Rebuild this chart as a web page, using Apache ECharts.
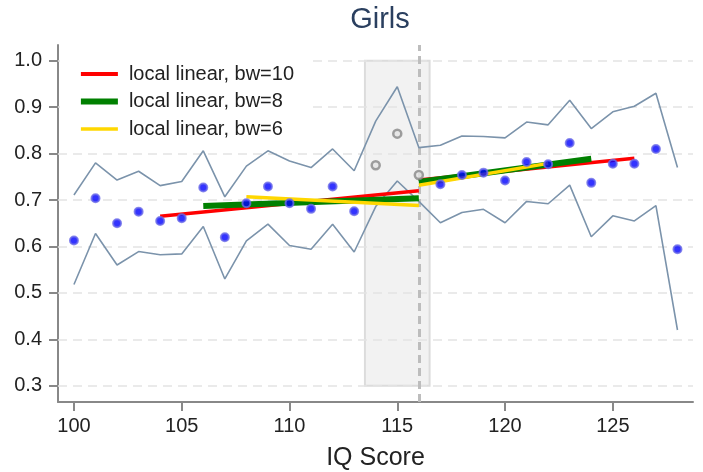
<!DOCTYPE html>
<html>
<head>
<meta charset="utf-8">
<script src="https://cdn.jsdelivr.net/npm/echarts@6/dist/echarts.min.js"></script>
<style>
  html, body { margin: 0; padding: 0; background: #ffffff; }
  #chart { width: 703px; height: 472px; }
</style>
</head>
<body>
<div id="chart"></div>
<script>
// IQ scores on the horizontal axis
const iqScores = [100, 101, 102, 103, 104, 105, 106, 107, 108, 109, 110, 111, 112, 113,
                  114, 115, 116, 117, 118, 119, 120, 121, 122, 123, 124, 125, 126, 127, 128];

// Binned means (scores 114-116 fall inside the excluded window)
const binMeans = [0.613, 0.704, 0.650, 0.675, 0.655, 0.661, 0.727, 0.620, 0.693, 0.729,
                  0.693, 0.681, 0.729, 0.676, 0.775, 0.843, 0.754, 0.734, 0.754, 0.759,
                  0.742, 0.782, 0.777, 0.823, 0.737, 0.778, 0.778, 0.810, 0.594];

// Upper and lower confidence bounds per bin
const ciUpper = [0.711, 0.780, 0.743, 0.762, 0.731, 0.740, 0.806, 0.707, 0.773, 0.806,
                 0.784, 0.770, 0.810, 0.763, 0.870, 0.944, 0.813, 0.818, 0.838, 0.837,
                 0.834, 0.868, 0.862, 0.915, 0.854, 0.890, 0.902, 0.930, 0.770];
const ciLower = [0.518, 0.628, 0.560, 0.589, 0.582, 0.584, 0.643, 0.530, 0.612, 0.648,
                 0.602, 0.594, 0.648, 0.588, 0.686, 0.741, 0.697, 0.651, 0.673, 0.680,
                 0.651, 0.697, 0.692, 0.732, 0.621, 0.666, 0.655, 0.688, 0.420];

// Excluded window around the cutoff
const excludedFrom = 113.5;
const excludedTo = 116.5;
const cutoff = 116;

// Local linear fits: [left start, cutoff] and [cutoff, right end]
const fitBw10 = { left: [[104, 0.665], [116, 0.720]], right: [[116, 0.743], [126, 0.790]] };
const fitBw8  = { left: [[106, 0.687], [116, 0.704]], right: [[116, 0.739], [124, 0.789]] };
const fitBw6  = { left: [[108, 0.707], [116, 0.688]], right: [[116, 0.732], [122, 0.779]] };

// Axis ticks
const xTicks = [100, 105, 110, 115, 120, 125];
const yTicks = [0.3, 0.4, 0.5, 0.6, 0.7, 0.8, 0.9, 1.0];

const FONT = '"Liberation Sans", Arial, Helvetica, sans-serif';

const inWindow = x => x >= excludedFrom && x <= excludedTo;
const meansIn = [], meansOut = [];
iqScores.forEach((x, i) => (inWindow(x) ? meansIn : meansOut).push([x, binMeans[i]]));

const fitData = f => [...f.left, [cutoff, '-'], ...f.right];

const RED = '#ff0000', GREEN = '#008000', GOLD = '#ffd700';

const chart = echarts.init(document.getElementById('chart'), null, { renderer: 'canvas' });

chart.setOption({
  animation: false,
  backgroundColor: '#ffffff',
  title: {
    text: 'Girls',
    left: 375,
    textAlign: 'center',
    top: 0,
    textStyle: { fontFamily: FONT, fontSize: 29, fontWeight: 'normal', color: '#2a3f5f' }
  },
  grid: { left: 58, right: 10, top: 45, bottom: 70, containLabel: false, outerBoundsMode: 'none' },
  legend: {
    orient: 'vertical',
    left: 60,
    top: 58,
    padding: [6, 14, 8, 18],
    backgroundColor: '#ffffff',
    itemWidth: 37,
    itemHeight: 14,
    itemGap: 7.5,
    z: 10,
    data: [
      { name: 'local linear, bw=10', itemStyle: { opacity: 0 }, lineStyle: { width: 3.8, color: RED } },
      { name: 'local linear, bw=8', itemStyle: { opacity: 0 }, lineStyle: { width: 5.8, color: GREEN } },
      { name: 'local linear, bw=6', itemStyle: { opacity: 0 }, lineStyle: { width: 3.4, color: GOLD } }
    ],
    textStyle: { fontFamily: FONT, fontSize: 20, color: '#222', padding: [0, 0, 0, 6], lineHeight: 20 }
  },
  xAxis: {
    type: 'value',
    min: 99.26,
    max: 128.72,
    name: 'IQ Score',
    nameLocation: 'middle',
    nameGap: 44,
    nameTextStyle: { fontFamily: FONT, fontSize: 25, color: '#222' },
    axisLine: { show: true, onZero: false, lineStyle: { color: '#888', width: 2 } },
    axisTick: { show: true, length: 9, customValues: xTicks, lineStyle: { color: '#888', width: 2 } },
    axisLabel: { customValues: xTicks, fontFamily: FONT, fontSize: 20, color: '#222', margin: 14 },
    splitLine: { show: false }
  },
  yAxis: {
    type: 'value',
    min: 0.2649,
    max: 1.034,
    axisLine: { show: true, onZero: false, lineStyle: { color: '#888', width: 2 } },
    axisTick: { show: true, length: 9, customValues: yTicks, lineStyle: { color: '#888', width: 2 } },
    axisLabel: { customValues: yTicks, fontFamily: FONT, fontSize: 20, color: '#222', margin: 16,
                 formatter: v => v.toFixed(1) },
    splitLine: { show: false }
  },
  series: [
    {
      // excluded window around the cutoff
      type: 'line',
      data: [],
      silent: true,
      z: 0,
      markArea: {
        silent: true,
        z: 1,
        itemStyle: { color: '#f2f2f2', borderColor: '#dcdcdc', borderWidth: 2 },
        data: [[{ xAxis: excludedFrom, yAxis: 0.3 }, { xAxis: excludedTo, yAxis: 1.0 }]]
      }
    },
    {
      // horizontal gridlines and the cutoff marker
      type: 'line',
      data: [],
      silent: true,
      z: 2,
      markLine: {
        silent: true,
        z: 2,
        symbol: 'none',
        label: { show: false },
        data: [
          ...yTicks.map(v => ({ yAxis: v, lineStyle: { color: '#e3e3e3', width: 1.5, type: [9, 6] } })),
          { xAxis: cutoff, lineStyle: { color: '#bdbdbd', width: 3, type: [8, 5] } }
        ]
      }
    },
    {
      name: 'upper',
      type: 'line',
      data: iqScores.map((x, i) => [x, ciUpper[i]]),
      symbol: 'none',
      lineStyle: { color: '#7b93ab', width: 1.6 },
      z: 3
    },
    {
      name: 'lower',
      type: 'line',
      data: iqScores.map((x, i) => [x, ciLower[i]]),
      symbol: 'none',
      lineStyle: { color: '#7b93ab', width: 1.6 },
      z: 3
    },
    {
      name: 'local linear, bw=10',
      type: 'line',
      data: fitData(fitBw10),
      symbol: 'none',
      connectNulls: false,
      lineStyle: { color: RED, width: 3.5 },
      z: 4
    },
    {
      name: 'local linear, bw=8',
      type: 'line',
      data: fitData(fitBw8),
      symbol: 'none',
      connectNulls: false,
      lineStyle: { color: GREEN, width: 6 },
      z: 4
    },
    {
      name: 'local linear, bw=6',
      type: 'line',
      data: fitData(fitBw6),
      symbol: 'none',
      connectNulls: false,
      lineStyle: { color: GOLD, width: 3.5 },
      z: 4
    },
    {
      name: 'excluded bins',
      type: 'scatter',
      data: meansIn,
      symbolSize: 8,
      itemStyle: { color: '#e4e4e4', borderColor: '#888888', borderWidth: 2.5 },
      z: 6
    },
    {
      name: 'bin means',
      type: 'scatter',
      data: meansOut,
      symbolSize: 8,
      itemStyle: { color: '#0000ff', borderColor: '#6c6ce8', borderWidth: 2 },
      z: 6
    }
  ]
});
</script>
</body>
</html>
